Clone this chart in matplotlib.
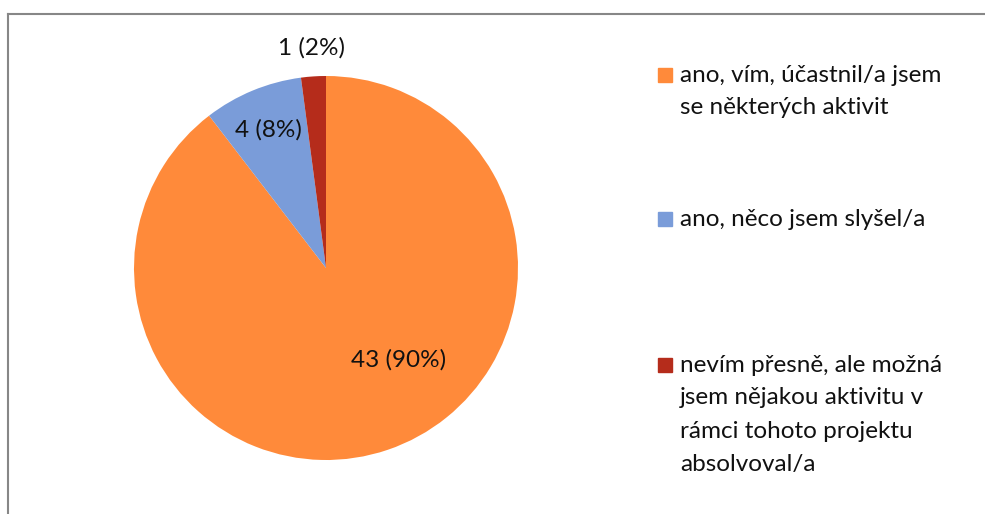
import numpy as np
import matplotlib
matplotlib.use('Agg')
import matplotlib.pyplot as plt
from matplotlib.lines import Line2D
from matplotlib.patches import Rectangle

# survey answers
labels = ['ano, vím, účastnil/a jsem\nse některých aktivit',
          'ano, něco jsem slyšel/a',
          'nevím přesně, ale možná\njsem nějakou aktivitu v\nrámci tohoto projektu\nabsolvoval/a']
counts = [43, 4, 1]
pct_labels = ['43 (90%)', '4 (8%)', '1 (2%)']
colors = ['#FF8A3A', '#7A9CD9', '#B52C1B']

plt.rcParams['font.family'] = ['Lato', 'DejaVu Sans']
FS = 17.5

W, H = 985, 514
fig = plt.figure(figsize=(W / 100, H / 100), dpi=100)

# pie centre (326, 268) px, radius 192 px
cx, cy, r = 326, 268, 192
ax = fig.add_axes([(cx - r) / W, (H - cy - r) / H, 2 * r / W, 2 * r / H])
wedges, _ = ax.pie(counts, colors=colors, startangle=90, counterclock=False,
                   wedgeprops=dict(linewidth=0))
ax.set_xlim(-1, 1)
ax.set_ylim(-1, 1)
ax.set_aspect('equal')

# data labels
total = sum(counts)
start = 90.0
mids = []
for c in counts:
    span = 360.0 * c / total
    mids.append(np.deg2rad(start - span / 2))
    start -= span
label_pos = [(0.38, -0.48),
             (0.78 * np.cos(mids[1]), 0.78 * np.sin(mids[1])),
             (1.15 * np.cos(mids[2]), 1.15 * np.sin(mids[2]))]
for (x, y), t in zip(label_pos, pct_labels):
    ax.text(x, y, t, ha='center', va='center', fontsize=FS, color='#111111',
            clip_on=False)

# legend (manual, wrapped like the original)
leg_y = [75, 219, 365]
line_h = 33
for yy, lab, col in zip(leg_y, labels, colors):
    fig.patches.append(Rectangle((658 / W, (H - yy - 7) / H), 14 / W, 14 / H,
                                 transform=fig.transFigure, color=col))
    for i, ln in enumerate(lab.split('\n')):
        fig.text(680 / W, (H - yy - i * line_h) / H, ln, ha='left', va='center',
                 fontsize=FS, color='#111111')

# chart border (left and top only visible)
fig.lines.append(Line2D([8 / W, 8 / W], [0, (H - 14) / H], transform=fig.transFigure,
                        color='#878787', lw=1.5))
fig.lines.append(Line2D([8 / W, 1], [(H - 14) / H, (H - 14) / H], transform=fig.transFigure,
                        color='#878787', lw=1.5))

fig.savefig('out.png', dpi=100)
